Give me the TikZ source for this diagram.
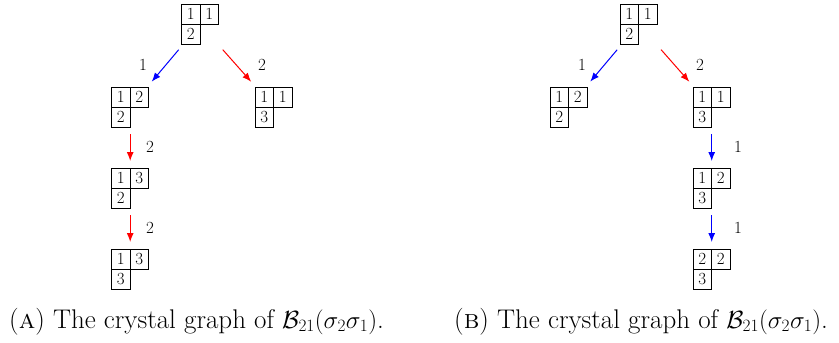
\documentclass[tikz,border=0pt]{standalone}
\usetikzlibrary{calc,arrows.meta}
\tikzset{
  tabnode/.style={rectangle,inner sep=0pt,minimum width=37pt,minimum height=40pt,anchor=north west},
  cellline/.style={line width=0.8pt,black},
  digit/.style={inner sep=0pt,font=\fontsize{17}{20}\selectfont},
  lab/.style={inner sep=0pt,font=\fontsize{17}{20}\selectfont},
  arrw/.style={line width=1pt,-{Latex[length=9pt,width=7pt]},shorten <=7pt,shorten >=7pt},
  bluearr/.style={arrw,blue},
  redarr/.style={arrw,red},
  captext/.style={inner sep=0pt,anchor=base west,font=\fontsize{27}{32}\selectfont}
}
\newcommand\ytab[6]{%
  \node[tabnode] (#1) at (#2,#3) {};
  \draw[cellline] (#1.north west) rectangle ++(37,20);
  \draw[cellline] ($(#1.north west)+(18.5,0)$) -- ++(0,20);
  \draw[cellline] ($(#1.north west)+(0,20)$) rectangle ++(18.5,20);
  \node[digit] (#1a) at ($(#1.north west)+(9.25,10)$) {#4};
  \node[digit] (#1b) at ($(#1.north west)+(27.75,10)$) {#5};
  \node[digit] (#1c) at ($(#1.north west)+(9.25,30)$) {#6};
}
\begin{document}
\begin{tikzpicture}[x=1pt,y=-1pt]
\useasboundingbox (0,0) rectangle (839,343);
% left graph
\ytab{la}{181.5}{4}{1}{1}{2}
\ytab{lb}{111.5}{87}{1}{2}{2}
\ytab{lc}{255}{87}{1}{1}{3}
\ytab{ld}{111.5}{168}{1}{3}{2}
\ytab{le}{111.5}{249}{1}{3}{3}
\draw[bluearr] (la) -- (lb);
\draw[redarr] (la) -- (lc);
\draw[redarr] (lb) -- (ld);
\draw[redarr] (ld) -- (le);
\node[lab] (l1) at (143,65) {1};
\node[lab] (l2) at (262,65) {2};
\node[lab] (l3) at (150,147) {2};
\node[lab] (l4) at (150,228) {2};
% right graph
\ytab{ra}{620}{4}{1}{1}{2}
\ytab{rb}{550}{87}{1}{2}{2}
\ytab{rc}{693}{87}{1}{1}{3}
\ytab{rd}{693}{168}{1}{2}{3}
\ytab{re}{693}{249}{2}{2}{3}
\draw[bluearr] (ra) -- (rb);
\draw[redarr] (ra) -- (rc);
\draw[bluearr] (rc) -- (rd);
\draw[bluearr] (rd) -- (re);
\node[lab] (r1) at (582,65) {1};
\node[lab] (r2) at (700,65) {2};
\node[lab] (r3) at (738,147) {1};
\node[lab] (r4) at (738,228) {1};
% captions
\node[captext] (capa) at (9,328) {(\textsc{a}) The crystal graph of $\mathcal{B}_{21}(\sigma_2\sigma_1)$.};
\node[captext] (capb) at (454,328) {(\textsc{b}) The crystal graph of $\mathcal{B}_{21}(\sigma_2\sigma_1)$.};
\end{tikzpicture}
\end{document}
